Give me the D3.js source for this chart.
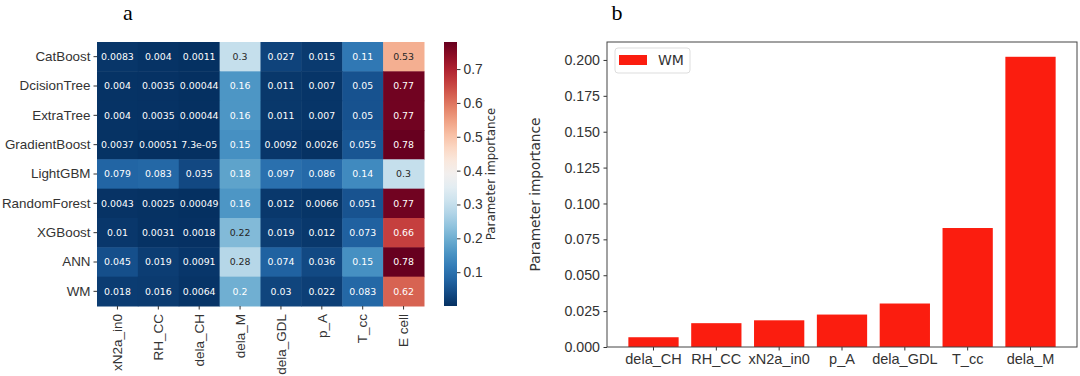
<!DOCTYPE html>
<html>
<head>
<meta charset="utf-8">
<script src="https://cdn.jsdelivr.net/npm/d3@7"></script>
<style>
  body { margin: 0; background: #fff; }
  svg { font-family: "DejaVu Sans", sans-serif; }
  .axis text { fill: #333; }
</style>
</head>
<body>
<svg id="chart" width="1080" height="376"></svg>
<script>
"use strict";

// heatmap data (panel a)
var models = ["CatBoost", "DcisionTree", "ExtraTree", "GradientBoost", "LightGBM",
              "RandomForest", "XGBoost", "ANN", "WM"]
var params = ["xN2a_in0", "RH_CC", "dela_CH", "dela_M", "dela_GDL", "p_A", "T_cc", "E cell"]
var importance = [
    [0.0083, 0.004, 0.0011, 0.3, 0.027, 0.015, 0.11, 0.53],
    [0.004, 0.0035, 0.00044, 0.16, 0.011, 0.007, 0.05, 0.77],
    [0.004, 0.0035, 0.00044, 0.16, 0.011, 0.007, 0.05, 0.77],
    [0.0037, 0.00051, 7.3e-05, 0.15, 0.0092, 0.0026, 0.055, 0.78],
    [0.079, 0.083, 0.035, 0.18, 0.097, 0.086, 0.14, 0.3],
    [0.0043, 0.0025, 0.00049, 0.16, 0.012, 0.0066, 0.051, 0.77],
    [0.01, 0.0031, 0.0018, 0.22, 0.019, 0.012, 0.073, 0.66],
    [0.045, 0.019, 0.0091, 0.28, 0.074, 0.036, 0.15, 0.78],
    [0.018, 0.016, 0.0064, 0.2, 0.03, 0.022, 0.083, 0.62]
]
var cbarTicks = [0.1, 0.2, 0.3, 0.4, 0.5, 0.6, 0.7]

// bar data (panel b)
var barParams = ["dela_CH", "RH_CC", "xN2a_in0", "p_A", "dela_GDL", "T_cc", "dela_M"]
var barValues = [0.0068, 0.0166, 0.0186, 0.0226, 0.0303, 0.0829, 0.2022]
var barTicks = [0, 0.025, 0.05, 0.075, 0.1, 0.125, 0.15, 0.175, 0.2]

var svg = d3.select("#chart")

// python-like ".2g"
function fmtG(v) {
    var s = v < 1e-4 ? d3.format(".1e")(v) : d3.format(".2~g")(v)
    return s.replace(/e-(\d)$/, "e-0$1")
}

function luminance(c) {
    var rgb = d3.rgb(c)
    var lin = [rgb.r, rgb.g, rgb.b].map(v => {
        v = v / 255
        return v <= 0.03928 ? v / 12.92 : Math.pow((v + 0.055) / 1.055, 2.4)
    })
    return 0.2126 * lin[0] + 0.7152 * lin[1] + 0.0722 * lin[2]
}

function drawHeatmap() {
    var left = 97, top = 42, width = 327, height = 264
    var g = svg.append("g").attr("transform", "translate(" + left + "," + top + ")")

    var x = d3.scaleBand().domain(params).range([0, width])
    var y = d3.scaleBand().domain(models).range([0, height])
    var all = importance.flat()
    var vmin = d3.min(all), vmax = d3.max(all)
    var color = d3.scaleSequential(t => d3.interpolateRdBu(1 - t)).domain([vmin, vmax])

    var cells = []
    importance.forEach((row, i) => row.forEach((v, j) => cells.push({model: models[i], param: params[j], value: v})))

    g.selectAll("rect.cell")
        .data(cells)
        .enter().append("rect")
        .attr("class", "cell")
        .attr("x", d => x(d.param))
        .attr("y", d => y(d.model))
        .attr("width", x.bandwidth() + 0.5)
        .attr("height", y.bandwidth() + 0.5)
        .style("fill", d => color(d.value))

    g.selectAll("text.annot")
        .data(cells)
        .enter().append("text")
        .attr("class", "annot")
        .attr("x", d => x(d.param) + x.bandwidth() / 2)
        .attr("y", d => y(d.model) + y.bandwidth() / 2)
        .attr("dy", "0.35em")
        .attr("text-anchor", "middle")
        .style("font-size", "9.4px")
        .style("fill", d => luminance(color(d.value)) > 0.408 ? "#262626" : "#fff")
        .text(d => fmtG(d.value))

    var yAxis = d3.axisLeft(y).tickSize(3.5).tickPadding(3)
    g.append("g")
        .attr("class", "axis")
        .call(yAxis)
        .call(a => a.select(".domain").remove())
        .call(a => a.selectAll("line").attr("stroke", "#333"))
        .selectAll("text").style("font-size", "13.4px")

    var xAxis = d3.axisBottom(x).tickSize(3.5).tickPadding(3)
    g.append("g")
        .attr("class", "axis")
        .attr("transform", "translate(0," + height + ")")
        .call(xAxis)
        .call(a => a.select(".domain").remove())
        .call(a => a.selectAll("line").attr("stroke", "#333"))
      .selectAll("text")
        .style("font-size", "13.5px")
        .style("text-anchor", "end")
        .attr("dy", "0.35em")
        .attr("y", 0)
        .attr("transform", "translate(0,8)rotate(-90)")

    // colorbar
    var cbX = 444, cbW = 13
    var cbScale = d3.scaleLinear().domain([vmin, vmax]).range([top + height, top])
    var grad = svg.append("defs").append("linearGradient")
        .attr("id", "cbgrad")
        .attr("x1", 0).attr("y1", 1).attr("x2", 0).attr("y2", 0)
    d3.range(0, 1.0001, 0.05).forEach(t => {
        grad.append("stop").attr("offset", t).attr("stop-color", d3.interpolateRdBu(1 - t))
    })
    svg.append("rect")
        .attr("x", cbX).attr("y", top)
        .attr("width", cbW).attr("height", height)
        .style("fill", "url(#cbgrad)")

    svg.append("g")
        .attr("class", "axis")
        .attr("transform", "translate(" + (cbX + cbW) + ",0)")
        .call(d3.axisRight(cbScale).tickValues(cbarTicks).tickSize(3.5).tickPadding(3))
        .call(a => a.select(".domain").remove())
        .call(a => a.selectAll("line").attr("stroke", "#333"))
        .selectAll("text").style("font-size", "13.8px")

    svg.append("text")
        .attr("transform", "translate(495," + (top + height / 2) + ")rotate(-90)")
        .attr("text-anchor", "middle")
        .style("font-size", "11.8px")
        .style("fill", "#333")
        .text("Parameter importance")

    svg.append("text")
        .attr("x", 128).attr("y", 20)
        .attr("text-anchor", "middle")
        .style("font-family", "'Liberation Serif', serif")
        .style("font-size", "22px")
        .text("a")
}

function drawBarChart() {
    var left = 607, top = 42, right = 1077, bottom = 347
    var width = right - left, height = bottom - top
    var g = svg.append("g").attr("transform", "translate(" + left + "," + top + ")")

    var x = d3.scaleBand().domain(barParams).range([0, width]).paddingInner(0.2).paddingOuter(0.34)
    var y = d3.scaleLinear().domain([0, 0.2125]).range([height, 0])

    g.selectAll("rect.bar")
        .data(barValues)
        .enter().append("rect")
        .attr("class", "bar")
        .attr("x", (d, i) => x(barParams[i]))
        .attr("width", x.bandwidth())
        .attr("y", d => y(d))
        .attr("height", d => height - y(d))
        .style("fill", "#fb1d0f")

    g.append("g")
        .attr("class", "axis")
        .call(d3.axisLeft(y).tickValues(barTicks).tickFormat(d3.format(".3f")).tickSize(3.5).tickPadding(3.5))
        .call(a => a.select(".domain").remove())
        .call(a => a.selectAll("line").attr("stroke", "#333"))
        .selectAll("text").style("font-size", "14.2px")

    g.append("g")
        .attr("class", "axis")
        .attr("transform", "translate(0," + height + ")")
        .call(d3.axisBottom(x).tickSize(3.5).tickPadding(3))
        .call(a => a.select(".domain").remove())
        .call(a => a.selectAll("line").attr("stroke", "#333"))
        .selectAll("text").style("font-size", "14.5px")

    // frame
    g.append("rect")
        .attr("width", width).attr("height", height)
        .style("fill", "none").style("stroke", "#444").style("stroke-width", 1)

    svg.append("text")
        .attr("transform", "translate(540," + (top + height / 2) + ")rotate(-90)")
        .attr("text-anchor", "middle")
        .style("font-size", "13.7px")
        .style("fill", "#333")
        .text("Parameter importance")

    // legend
    var lg = g.append("g").attr("transform", "translate(8,6)")
    lg.append("rect")
        .attr("width", 75).attr("height", 25).attr("rx", 3)
        .style("fill", "#fff").style("stroke", "#ddd")
    lg.append("rect")
        .attr("x", 4).attr("y", 7).attr("width", 28).attr("height", 10)
        .style("fill", "#fb1d0f")
    lg.append("text")
        .attr("x", 43).attr("y", 12.5).attr("dy", "0.35em")
        .style("font-size", "14px")
        .style("fill", "#333")
        .text("WM")

    svg.append("text")
        .attr("x", 617).attr("y", 20)
        .attr("text-anchor", "middle")
        .style("font-family", "'Liberation Serif', serif")
        .style("font-size", "22px")
        .text("b")
}

drawHeatmap()
drawBarChart()
</script>
</body>
</html>
